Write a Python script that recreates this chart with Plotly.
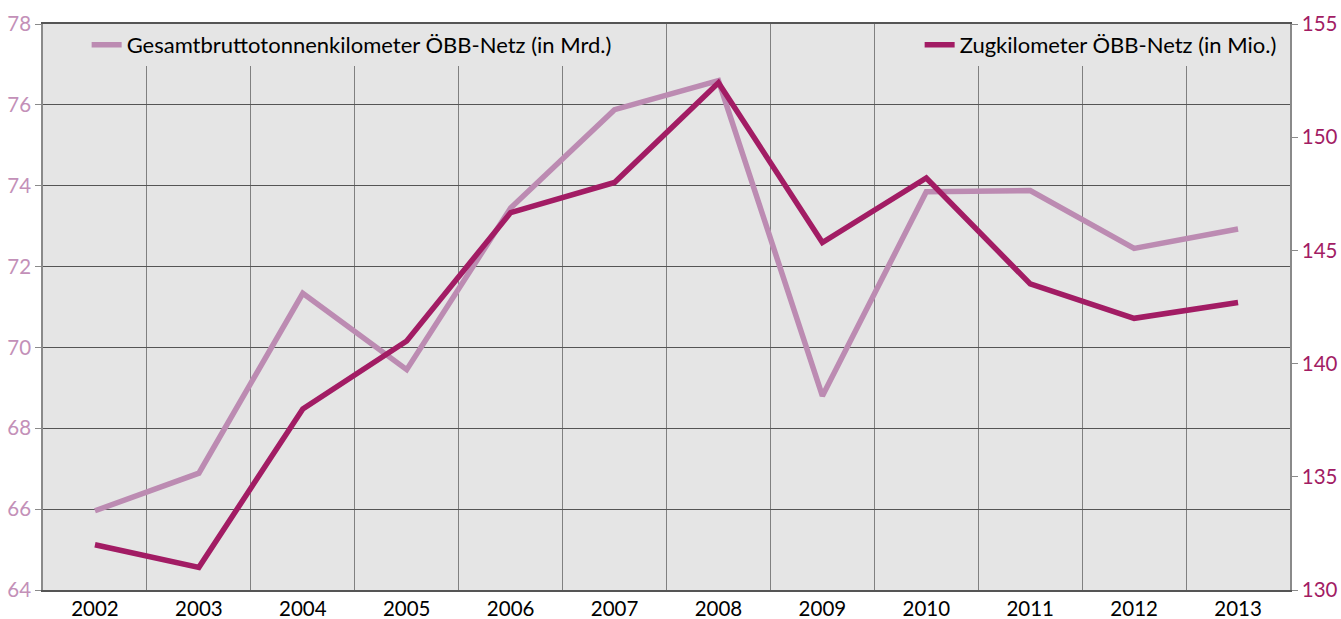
import plotly.graph_objects as go

years = [2002, 2003, 2004, 2005, 2006, 2007, 2008, 2009, 2010, 2011, 2012, 2013]
gesamt_btkm = [65.96, 66.89, 71.34, 69.45, 73.45, 75.88, 76.6, 68.8, 73.85, 73.88, 72.45, 72.93]
zugkm = [132.0, 131.0, 138.0, 141.0, 146.67, 148.0, 152.4, 145.35, 148.2, 143.52, 142.0, 142.7]
name_gesamt = "Gesamtbruttotonnenkilometer ÖBB-Netz (in Mrd.)"
name_zug = "Zugkilometer ÖBB-Netz (in Mio.)"
left_ticks = [64, 66, 68, 70, 72, 74, 76, 78]
right_ticks = [130, 135, 140, 145, 150, 155]

c_light = "#BC8BB2"
c_dark = "#A21C64"
FONT = "Lato, 'Open Sans', sans-serif"
TICK = 20.5
LEG = 22

fig = go.Figure()
fig.add_trace(go.Scatter(x=years, y=gesamt_btkm, name=name_gesamt, mode="lines",
                         line=dict(color=c_light, width=5.5), legend="legend"))
fig.add_trace(go.Scatter(x=years, y=zugkm, name=name_zug, mode="lines", yaxis="y2",
                         line=dict(color=c_dark, width=5.5), legend="legend2"))

boundaries = [y + 0.5 for y in years[:-1]]

fig.update_layout(
    width=1341, height=619,
    margin=dict(l=43, r=51, t=24, b=29, autoexpand=False),
    paper_bgcolor="white",
    plot_bgcolor="#E5E5E5",
    font=dict(family=FONT, size=TICK, color="black"),
    xaxis=dict(
        type="linear", range=[years[0] - 0.5, years[-1] + 0.5], automargin=False,
        tickvals=years, ticktext=[str(y) for y in years],
        showgrid=False, zeroline=False,
        showline=True, mirror=True, linecolor="#555555", linewidth=1.5,
        ticks="", tickfont=dict(size=TICK, color="black"),
        minor=dict(tickvals=boundaries, showgrid=True, gridcolor="#808080", gridwidth=1.2, ticks=""),
    ),
    yaxis=dict(
        range=[64, 78], tickvals=left_ticks, automargin=False,
        showgrid=True, gridcolor="#555555", gridwidth=1.2, zeroline=False,
        showline=True, linecolor="#8a8a8a", linewidth=1.5,
        ticks="outside", ticklen=6, tickcolor="#8a8a8a",
        tickfont=dict(size=TICK, color="#C390B8"),
    ),
    yaxis2=dict(
        range=[130, 155], tickvals=right_ticks, overlaying="y", side="right", automargin=False,
        showgrid=False, zeroline=False,
        showline=True, linecolor="#8a8a8a", linewidth=1.5,
        ticks="outside", ticklen=6, tickcolor="#8a8a8a",
        tickfont=dict(size=TICK, color=c_dark),
    ),
    legend=dict(x=0.035, y=1.0, xanchor="left", yanchor="top", bgcolor="#E5E5E5",
                font=dict(size=LEG, color="black"), borderwidth=0),
    legend2=dict(x=0.703, y=1.0, xanchor="left", yanchor="top", bgcolor="#E5E5E5",
                 font=dict(size=LEG, color="black"), borderwidth=0),
    showlegend=True,
)

fig.write_html(
    "out.html",
    config={"displayModeBar": False},
    post_script="document.body.style.margin='0px';document.body.style.overflow='hidden';",
)
